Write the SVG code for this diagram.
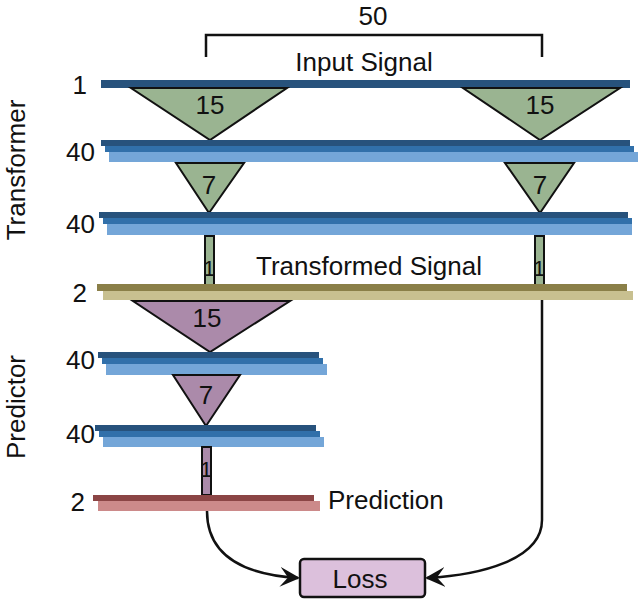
<svg xmlns="http://www.w3.org/2000/svg" width="640" height="600" viewBox="0 0 640 600">
<style>
text{font-family:"Liberation Sans",Arial,sans-serif;font-size:26px;fill:#111}
.c{text-anchor:middle}.r{text-anchor:end}
.d{fill:#27527c}.m{fill:#3170aa}.l{fill:#74a6d8}
.g{fill:#9ab491;stroke:#111;stroke-width:2}
.p{fill:#ab8aaa;stroke:#111;stroke-width:2}
.ln{fill:none;stroke:#111;stroke-width:2.5}
.s{font-size:22px}
</style>
<defs><marker id="a" viewBox="0 0 10 10" refX="9" refY="5" markerWidth="8" markerHeight="8" orient="auto"><path d="M0,0 L10,5 L0,10 L4,5z" fill="#111"/></marker></defs>
<g id="bracket"><path class="ln" d="M206,57 V35 H542 V57"/><text class="c" x="373" y="25">50</text></g>
<g id="labels">
<text class="r" x="87" y="94">1</text><text class="r" x="95" y="161">40</text><text class="r" x="95" y="233">40</text><text class="r" x="87" y="302">2</text>
<text class="r" x="95" y="369">40</text><text class="r" x="95" y="443">40</text><text class="r" x="85" y="511">2</text>
<text class="c" transform="translate(25,170) rotate(-90)">Transformer</text>
<text class="c" transform="translate(25,407) rotate(-90)">Predictor</text>
</g>
<g id="input"><rect class="d" x="101" y="80" width="529" height="8"/><text class="c" x="364" y="71">Input Signal</text></g>
<g id="conv15a"><path class="g" d="M131,88 H287 L210,140Z"/><text class="c" x="210" y="114">15</text><path class="g" d="M463,88 H620 L540,140Z"/><text class="c" x="540" y="114">15</text></g>
<g id="t40a"><rect class="d" x="101" y="140" width="529" height="6"/><rect class="m" x="105" y="146" width="529" height="6"/><rect class="l" x="109" y="152" width="529" height="10"/></g>
<g id="conv7a"><path class="g" d="M176,163 H244 L209,213Z"/><text class="c" x="209" y="194">7</text><path class="g" d="M505,163 H574 L540,213Z"/><text class="c" x="540" y="194">7</text></g>
<g id="t40b"><rect class="d" x="99" y="212" width="529" height="6"/><rect class="m" x="103" y="218" width="529" height="6"/><rect class="l" x="107" y="224" width="525" height="11"/></g>
<g id="conv1a"><rect class="g" x="205" y="236" width="9" height="49"/><text class="s" x="203" y="276">1</text><rect class="g" x="535" y="236" width="9" height="49"/><text class="s" x="533" y="276">1</text></g>
<g id="transformed"><rect x="97" y="284" width="530" height="7" fill="#8a7f48"/><rect x="103" y="291" width="530" height="9" fill="#c8c090"/><text class="c" x="369" y="275">Transformed Signal</text></g>
<g id="conv15b"><path class="p" d="M133,301 H290 L210,352Z"/><text class="c" x="207" y="327">15</text></g>
<g id="p40a"><rect class="d" x="98" y="352" width="221" height="6"/><rect class="m" x="102" y="358" width="221" height="6"/><rect class="l" x="106" y="364" width="221" height="11"/></g>
<g id="conv7b"><path class="p" d="M173,375 H240 L206,426Z"/><text class="c" x="206" y="404">7</text></g>
<g id="p40b"><rect class="d" x="95" y="425" width="221" height="6"/><rect class="m" x="99" y="431" width="221" height="6"/><rect class="l" x="103" y="437" width="221" height="10"/></g>
<g id="conv1b"><rect class="p" x="202" y="447" width="9" height="48"/><text class="s" x="200" y="477">1</text></g>
<g id="prediction"><rect x="93" y="495" width="221" height="6" fill="#8b4545"/><rect x="98" y="501" width="222" height="10" fill="#cc8a8a"/><text x="328" y="509">Prediction</text></g>
<g id="loss"><rect x="300" y="559" width="125" height="38" rx="4" fill="#dcc0dc" stroke="#111" stroke-width="2.5"/><text class="c" x="360" y="588">Loss</text></g>
<g id="connectors">
<path class="ln" marker-end="url(#a)" d="M207,511 C207,560 250,575 298,578"/>
<path class="ln" marker-end="url(#a)" d="M542,300 V520 C542,560 480,575 427,578"/>
</g>
</svg>
